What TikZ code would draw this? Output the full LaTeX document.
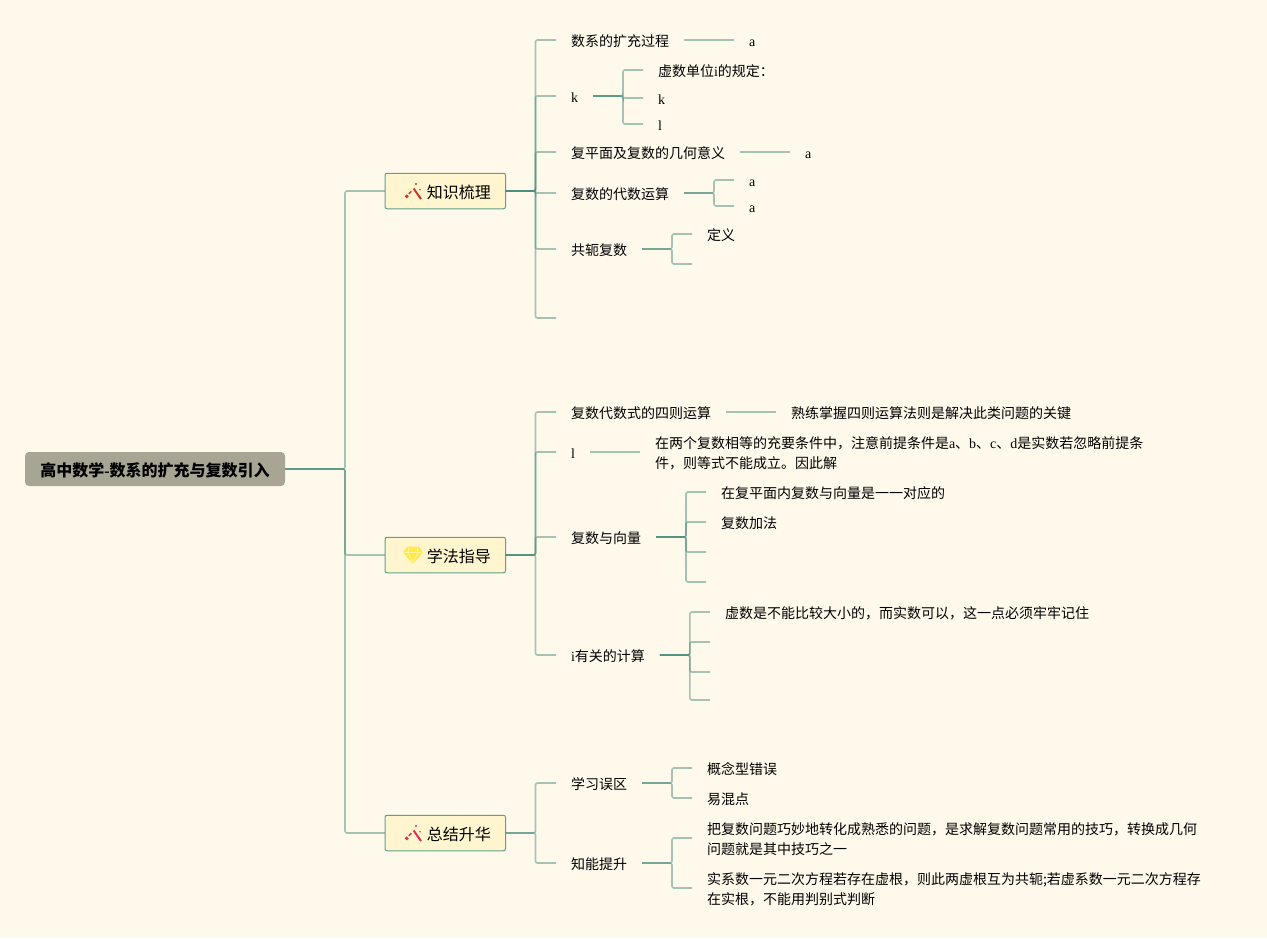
\documentclass[tikz,border=0pt]{standalone}
\usepackage{fontspec}
\setmainfont{Liberation Serif}
\newfontfamily\zhfont{Noto Sans CJK SC}
\newcommand{\zh}[1]{{\zhfont #1}}
\definecolor{pagebg}{HTML}{FFF9EC}
\definecolor{edgecol}{HTML}{4B8F7C}
\definecolor{rootfill}{HTML}{A9A594}
\definecolor{topicfill}{HTML}{FFF6CF}
\definecolor{topicline}{HTML}{5F9F8C}
\definecolor{wandred}{HTML}{C8392B}
\definecolor{wandpink}{HTML}{E0305A}
\definecolor{gemyellow}{HTML}{FFE94D}
\definecolor{gemlight}{HTML}{FFF59A}
\tikzset{
  x=1pt,y=-1pt,
  edge/.style={draw=edgecol,draw opacity=.5,line width=1.6pt,rounded corners=2pt},
  rootbox/.style={fill=rootfill,rounded corners=4pt,outer sep=0pt,minimum width=260pt,minimum height=34pt,inner sep=0pt,font=\fontsize{16}{20}\selectfont\bfseries,anchor=west,text height=16pt,text depth=0.5pt},
  topicbox/.style={draw=topicline,fill=topicfill,line width=1pt,outer sep=0pt,rounded corners=2pt,minimum width=120.5pt,minimum height=35.5pt,inner xsep=14.5pt,inner ysep=0pt,font=\fontsize{16}{20}\selectfont,anchor=west,text height=16pt,text depth=0.5pt},
  txt/.style={anchor=west,outer sep=0pt,inner xsep=15pt,inner ysep=0pt,font=\fontsize{14}{20}\selectfont,align=left,text height=13pt,text depth=1pt},
  txtmulti/.style={txt,text height=33pt,text depth=1pt},
}
\newcommand{\wandicon}[2]{%
  \begin{scope}[shift={#1}]
    \draw[#2,line width=2pt] (9.6,-3.5) -- (17,7);
    \draw[#2,line width=1.4pt] (4.8,1.8) -- (7.4,-0.8);
    \fill[#2] (0.8,4.3) -- (2.8,2.3) -- (4.8,4.3) -- (2.8,6.3) -- cycle;
    \fill[#2] (12,-8) circle (1.1pt);
    \fill[#2] (16,-2.3) circle (0.9pt);
  \end{scope}}
\begin{document}
\begin{tikzpicture}
\useasboundingbox[fill=pagebg] (0,0) rectangle (1267,938);
% main nodes
\node[rootbox] (root) at (25,469) {\zh{高中数学}-\zh{数系的扩充与复数引入}};
\node[topicbox] (t1) at (385,191) {\hspace*{27pt}\zh{知识梳理}};
\node[topicbox] (t2) at (385,555) {\hspace*{27pt}\zh{学法指导}};
\node[topicbox] (t3) at (385,833) {\hspace*{27pt}\zh{总结升华}};
% icons
\wandicon{(404,192)}{wandred}
\wandicon{(404,834)}{wandpink}
\fill[gemyellow] (407,546.5) -- (419,546.5) -- (423,552.5) -- (413,564) -- (403,552.5) -- cycle;
\draw[gemlight,line width=.8pt] (403.5,552.5) -- (422.5,552.5) (408,552.5) -- (413,563) -- (418,552.5) (409,547.5) -- (408,552.5) (417,547.5) -- (418,552.5);
% topic 1
\node[txt] (a1) at (556,40) {\zh{数系的扩充过程}};
\node[txt] (a1x) at (734,40) {a};
\node[txt] (a2) at (556,96) {k};
\node[txt] (a2x) at (643,70) {\zh{虚数单位}i\zh{的规定：}};
\node[txt] (a2y) at (643,98) {k};
\node[txt] (a2z) at (643,124) {l};
\node[txt] (a3) at (556,152) {\zh{复平面及复数的几何意义}};
\node[txt] (a3x) at (790,152) {a};
\node[txt] (a4) at (556,193) {\zh{复数的代数运算}};
\node[txt] (a4x) at (734,180) {a};
\node[txt] (a4y) at (734,206) {a};
\node[txt] (a5) at (556,249) {\zh{共轭复数}};
\node[txt] (a5x) at (692,234) {\zh{定义}};
\coordinate (a5y) at (692,264);
\coordinate (a6) at (556,318);
% topic 2
\node[txt] (b1) at (556,412) {\zh{复数代数式的四则运算}};
\node[txt] (b1x) at (776,412) {\zh{熟练掌握四则运算法则是解决此类问题的关键}};
\node[txt] (b2) at (556,452) {l};
\node[txtmulti] (b2x) at (640,452) {\zh{在两个复数相等的充要条件中，注意前提条件是}a\zh{、}b\zh{、}c\zh{、}d\zh{是实数若忽略前提条}\\\zh{件，则等式不能成立。因此解}};
\node[txt] (b3) at (556,537) {\zh{复数与向量}};
\node[txt] (b3x) at (706,492) {\zh{在复平面内复数与向量是一一对应的}};
\node[txt] (b3y) at (706,522) {\zh{复数加法}};
\coordinate (b3z) at (706,552);
\coordinate (b3w) at (706,582);
\node[txt] (b4) at (556,655) {i\zh{有关的计算}};
\node[txt] (b4x) at (710,612) {\zh{虚数是不能比较大小的，而实数可以，这一点必须牢牢记住}};
\coordinate (b4y) at (710,642);
\coordinate (b4z) at (710,672);
\coordinate (b4w) at (710,700);
% topic 3
\node[txt] (c1) at (556,783) {\zh{学习误区}};
\node[txt] (c1x) at (692,768) {\zh{概念型错误}};
\node[txt] (c1y) at (692,798) {\zh{易混点}};
\node[txt] (c2) at (556,863) {\zh{知能提升}};
\node[txtmulti] (c2x) at (692,838) {\zh{把复数问题巧妙地转化成熟悉的问题，是求解复数问题常用的技巧，转换成几何}\\\zh{问题就是其中技巧之一}};
\node[txtmulti] (c2y) at (692,888) {\zh{实系数一元二次方程若存在虚根，则此两虚根互为共轭;若虚系数一元二次方程存}\\\zh{在实根，不能用判别式判断}};
% connectors
\foreach \t in {t1,t2,t3} \draw[edge] (root.east) -- ++(60,0) |- (\t.west);
\foreach \n in {a1,a2,a3,a4,a5,a6} \draw[edge] (t1.east) -- ++(30,0) |- (\n);
\foreach \n in {b1,b2,b3,b4} \draw[edge] (t2.east) -- ++(30,0) |- (\n.west);
\foreach \n in {c1,c2} \draw[edge] (t3.east) -- ++(30,0) |- (\n.west);
\draw[edge] (a1.east) -- (a1x.west);
\foreach \n in {a2x,a2y,a2z} \draw[edge] (a2.east) -- ++(30,0) |- (\n.west);
\draw[edge] (a3.east) -- (a3x.west);
\foreach \n in {a4x,a4y} \draw[edge] (a4.east) -- ++(30,0) |- (\n.west);
\foreach \n in {a5x,a5y} \draw[edge] (a5.east) -- ++(30,0) |- (\n);
\draw[edge] (b1.east) -- (b1x.west);
\draw[edge] (b2.east) -- (b2x.west);
\foreach \n in {b3x,b3y,b3z,b3w} \draw[edge] (b3.east) -- ++(30,0) |- (\n);
\foreach \n in {b4x,b4y,b4z,b4w} \draw[edge] (b4.east) -- ++(30,0) |- (\n);
\foreach \n in {c1x,c1y} \draw[edge] (c1.east) -- ++(30,0) |- (\n.west);
\foreach \n in {c2x,c2y} \draw[edge] (c2.east) -- ++(30,0) |- (\n.west);
\end{tikzpicture}
\end{document}
